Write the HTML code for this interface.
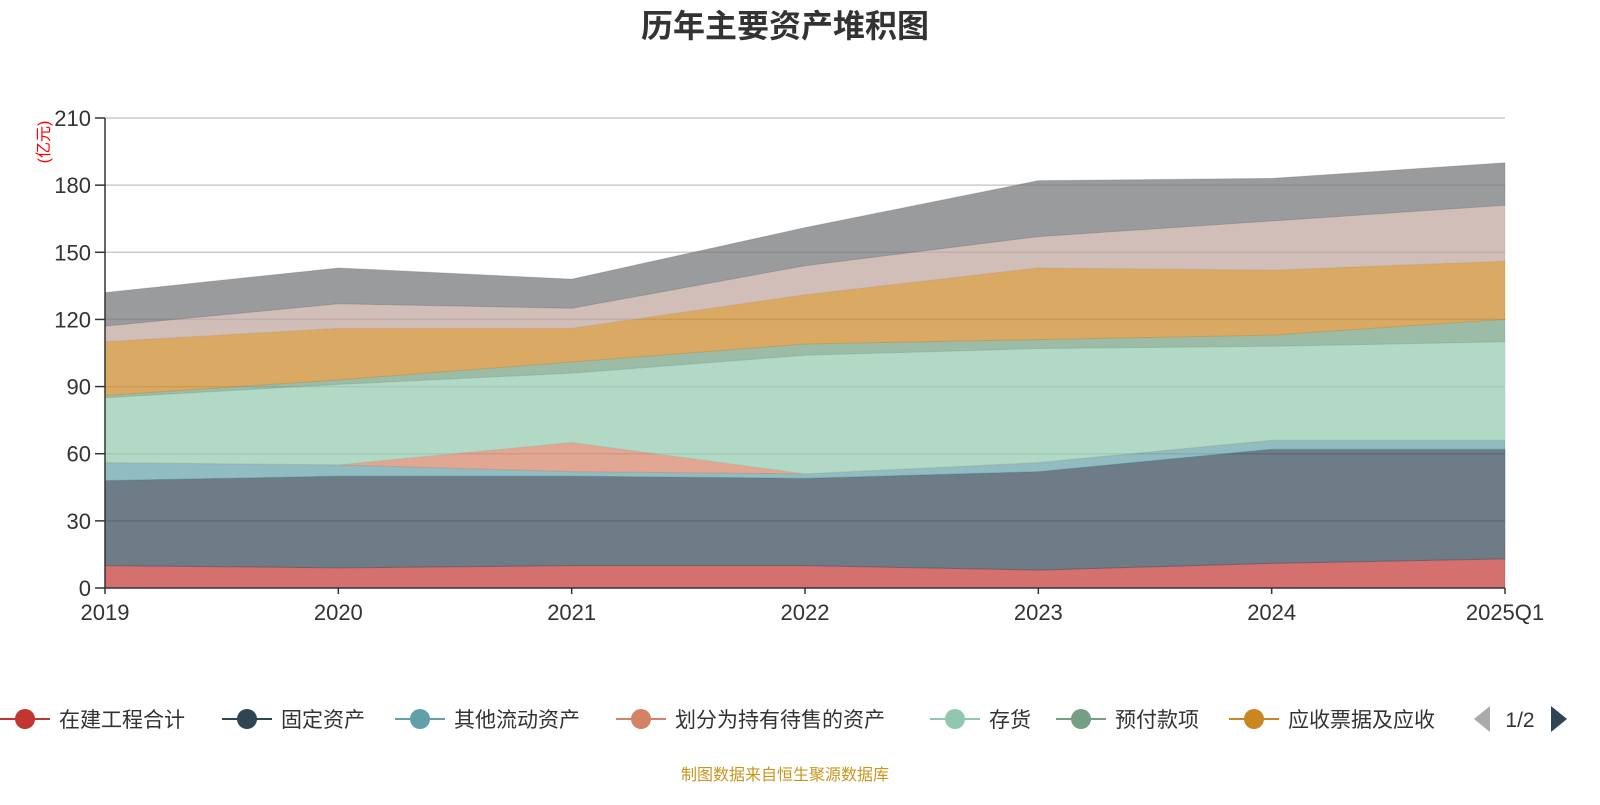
<!DOCTYPE html>
<html><head><meta charset="utf-8"><style>
body{margin:0;background:#fff;width:1600px;height:800px;overflow:hidden;font-family:"Liberation Sans","Noto Sans CJK SC",sans-serif}
</style></head><body>
<svg id="chart" width="1600" height="800" xmlns="http://www.w3.org/2000/svg" font-family="Liberation Sans, Noto Sans CJK SC, sans-serif">
<text x="785" y="37" text-anchor="middle" font-size="32" font-weight="bold" fill="#333">历年主要资产堆积图</text>
<text transform="translate(49,142) rotate(-90)" text-anchor="middle" font-size="16" fill="#ff0000">(亿元)</text>
<g id="grid"></g><g id="areas"></g><g id="axes"></g><g id="legend"></g>
<text x="785" y="780" text-anchor="middle" font-size="16" fill="#c8961e">制图数据来自恒生聚源数据库</text>
</svg>
<script>
const categories=["2019","2020","2021","2022","2023","2024","2025Q1"];
const yTicks=[0,30,60,90,120,150,180,210];
const seriesNames=["在建工程合计","固定资产","其他流动资产","划分为持有待售的资产","存货","预付款项","应收票据及应收","其他1","其他2"];
const seriesColors=["#c23531","#2f4554","#61a0a8","#d48265","#91c7ae","#749f83","#ca8622","#bda29a","#6e7074"];
const s0=[10,9,10,10,8,11,13];
const s1=[38,41,40,39,44,51,49];
const s2=[8,5,2,2,4,4,4];
const s3=[0,0,13,0,0,0,0];
const s4=[29,36,31,53,51,42,44];
const s5=[1,2,5,5,4,5,10];
const s6=[24,23,15,22,32,29,26];
const s7=[7,11,9,13,14,22,25];
const s8=[15,16,13,17,25,19,19];
const series=[s0,s1,s2,s3,s4,s5,s6,s7,s8];
const NS="http://www.w3.org/2000/svg";
const x0=105,x1=1505,yb=588,yt=118;
const xs=i=>x0+i*(x1-x0)/(categories.length-1);
const ys=v=>yb-(v/210)*(yb-yt);
function mk(t,a,p){const e=document.createElementNS(NS,t);for(const k in a)e.setAttribute(k,a[k]);p.appendChild(e);return e;}
const grid=document.getElementById('grid'),areas=document.getElementById('areas'),axes=document.getElementById('axes'),legend=document.getElementById('legend');
yTicks.forEach(v=>{
 if(v>0){const l=mk('line',{x1:x0,x2:x1,y1:ys(v),y2:ys(v),stroke:'#ccc','stroke-width':1.5},grid);
 
 }
 const tk=mk('line',{x1:x0-10,x2:x0,y1:ys(v),y2:ys(v),stroke:'#333','stroke-width':1.5},axes);
 
 
 const t=mk('text',{x:x0-14,y:ys(v)+8,'text-anchor':'end','font-size':22,fill:'#333'},axes);t.textContent=v;
 
 
});
let base=categories.map(()=>0);
series.forEach((s,k)=>{
 const top=base.map((b,i)=>b+s[i]);
 let d='M'+top.map((v,i)=>xs(i)+','+ys(v)).join('L');
 for(let i=categories.length-1;i>=0;i--)d+='L'+xs(i)+','+ys(base[i]);
 d+='Z';
 const p=mk('path',{d:d,fill:seriesColors[k],'fill-opacity':0.7,stroke:seriesColors[k],'stroke-opacity':0.3,'stroke-width':1},areas);
 
 
 base=top;
});
mk('line',{x1:x0,x2:x0,y1:yt,y2:yb,stroke:'#333','stroke-width':1.5},axes);
mk('line',{x1:x0,x2:x1,y1:yb,y2:yb,stroke:'#333','stroke-width':1.5},axes);
categories.forEach((c,i)=>{
 mk('line',{x1:xs(i),x2:xs(i),y1:yb,y2:yb+6,stroke:'#333','stroke-width':1.5},axes);
 const t=mk('text',{x:xs(i),y:620,'text-anchor':'middle','font-size':22,fill:'#333'},axes);t.textContent=c;
 
 
});
const legX=[0,222,395,616,930,1056,1229];
for(let k=0;k<7;k++){
 const g=mk('g',{},legend);
 
 
 const x=legX[k];
 mk('line',{x1:x,x2:x+50,y1:719,y2:719,stroke:seriesColors[k],'stroke-width':2},g);
 mk('circle',{cx:x+25,cy:719,r:10,fill:seriesColors[k]},g);
 const t=mk('text',{x:x+59,y:727,'font-size':21,fill:'#333'},g);t.textContent=seriesNames[k];
}
const pl=mk('path',{d:'M1490,706L1474,719L1490,732Z',fill:'#aaa'},legend);


const pt=mk('text',{x:1520,y:727,'text-anchor':'middle','font-size':21,fill:'#333'},legend);pt.textContent='1/2';


const pn=mk('path',{d:'M1551,706L1567,719L1551,732Z',fill:'#2f4554'},legend);


</script>
</body></html>
